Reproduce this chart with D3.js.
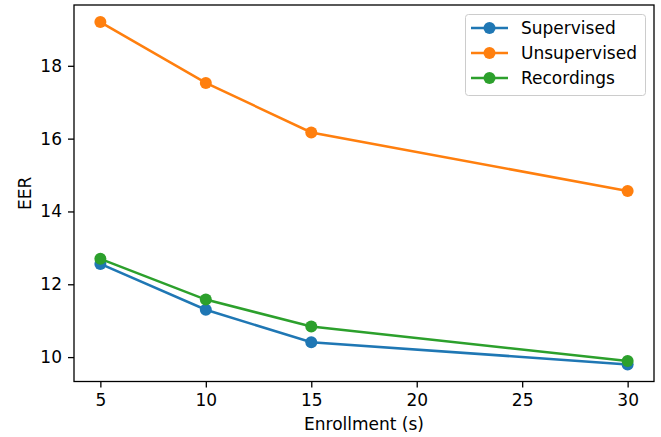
<!DOCTYPE html>
<html>
<head>
<meta charset="utf-8">
<script src="https://cdn.jsdelivr.net/npm/d3@7"></script>
<style>
  body { margin: 0; background: #fff; }
  text { font-family: "DejaVu Sans", sans-serif; fill: #000; }
</style>
</head>
<body>
<svg id="chart" width="661" height="437"></svg>
<script>
var enrollment = [5, 10, 15, 30];
var supervised = [12.56, 11.30, 10.41, 9.80];
var unsupervised = [19.20, 17.53, 16.17, 14.56];
var recordings = [12.70, 11.58, 10.84, 9.89];
var seriesNames = ['Supervised', 'Unsupervised', 'Recordings'];
var seriesColors = ['#1f77b4', '#ff7f0e', '#2ca02c'];
var xTicks = [5, 10, 15, 20, 25, 30];
var yTicks = [10, 12, 14, 16, 18];

var series = [supervised, unsupervised, recordings];

var svg = d3.select('#chart');
var m = { left: 74, right: 654, top: 5, bottom: 381.5 };
var fontSize = '17px';

var x = d3.scaleLinear().domain([3.75, 31.25]).range([m.left, m.right]);
var y = d3.scaleLinear().domain([9.33, 19.67]).range([m.bottom, m.top]);

// axes
var xAxis = svg.append('g')
    .attr('transform', 'translate(0,' + m.bottom + ')')
    .call(d3.axisBottom(x).tickValues(xTicks).tickSize(6).tickPadding(6).tickSizeOuter(0));
var yAxis = svg.append('g')
    .attr('transform', 'translate(' + m.left + ',0)')
    .call(d3.axisLeft(y).tickValues(yTicks).tickSize(6).tickPadding(6).tickSizeOuter(0));

[xAxis, yAxis].forEach(function (g) {
    g.select('.domain').remove();
    g.selectAll('.tick line').attr('stroke', '#000').attr('stroke-width', 1.3);
    g.selectAll('.tick text')
        .attr('fill', '#000')
        .style('font-size', fontSize)
        .style('font-family', '"DejaVu Sans", sans-serif');
});

// lines and markers
var line = d3.line()
    .x(function (d, i) { return x(enrollment[i]); })
    .y(function (d) { return y(d); });

series.forEach(function (s, k) {
    svg.append('path')
        .datum(s)
        .attr('d', line)
        .attr('fill', 'none')
        .attr('stroke', seriesColors[k])
        .attr('stroke-width', 2.5);
    svg.selectAll('.pt' + k)
        .data(s)
        .enter()
        .append('circle')
        .attr('class', 'pt' + k)
        .attr('cx', function (d, i) { return x(enrollment[i]); })
        .attr('cy', function (d) { return y(d); })
        .attr('r', 6)
        .attr('fill', seriesColors[k]);
});

// frame
svg.append('rect')
    .attr('x', m.left).attr('y', m.top)
    .attr('width', m.right - m.left).attr('height', m.bottom - m.top)
    .attr('fill', 'none').attr('stroke', '#000').attr('stroke-width', 1.3);

// axis labels
svg.append('text')
    .attr('x', (m.left + m.right) / 2).attr('y', 430)
    .attr('text-anchor', 'middle')
    .style('font-size', fontSize)
    .text('Enrollment (s)');
svg.append('text')
    .attr('transform', 'translate(31,' + ((m.top + m.bottom) / 2) + ') rotate(-90)')
    .attr('text-anchor', 'middle')
    .style('font-size', fontSize)
    .text('EER');

// legend
var legend = svg.append('g');
legend.append('rect')
    .attr('x', 465.5).attr('y', 14.5)
    .attr('width', 180).attr('height', 81)
    .attr('rx', 3)
    .attr('fill', '#fff').attr('fill-opacity', 0.8)
    .attr('stroke', '#ccc');
seriesNames.forEach(function (name, k) {
    var ly = 28 + k * 25;
    legend.append('line')
        .attr('x1', 471).attr('x2', 508)
        .attr('y1', ly).attr('y2', ly)
        .attr('stroke', seriesColors[k]).attr('stroke-width', 2.5);
    legend.append('circle')
        .attr('cx', 489.5).attr('cy', ly).attr('r', 6)
        .attr('fill', seriesColors[k]);
    legend.append('text')
        .attr('x', 521).attr('y', ly + 6)
        .style('font-size', fontSize)
        .text(name);
});
</script>
</body>
</html>
